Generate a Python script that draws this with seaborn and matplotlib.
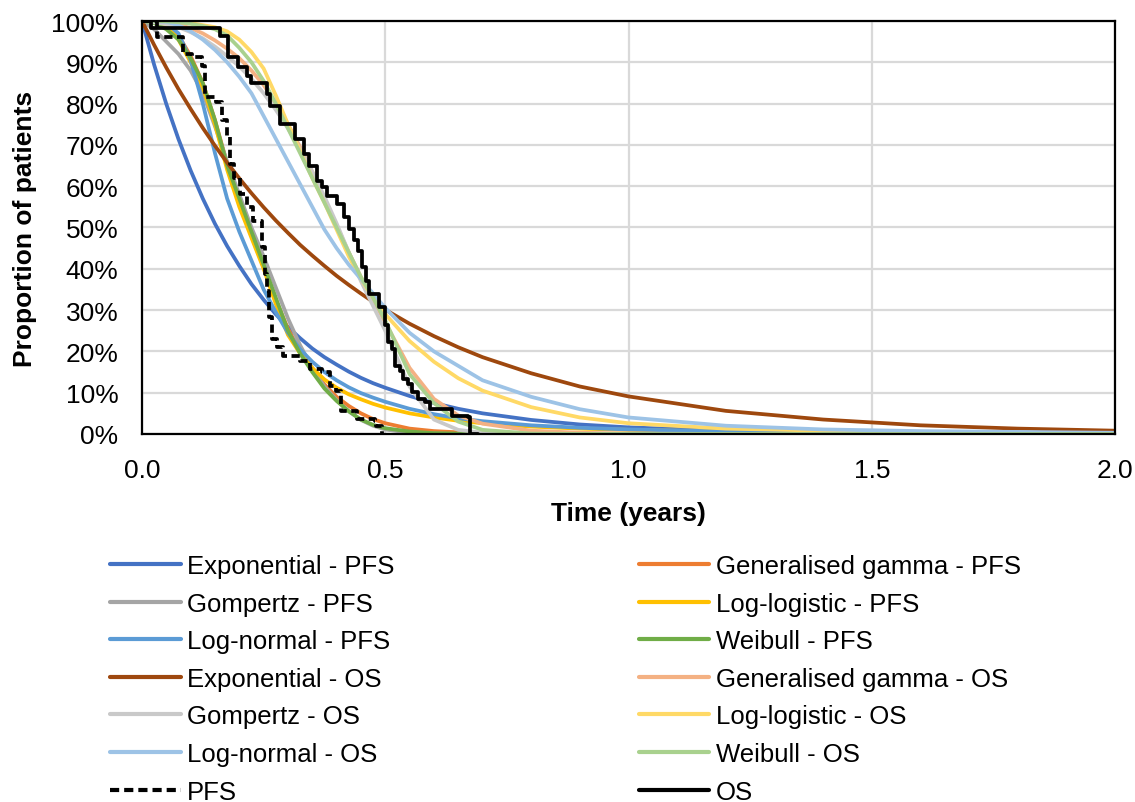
import pandas as pd
import seaborn as sns
import matplotlib.pyplot as plt
from matplotlib.lines import Line2D
from matplotlib.ticker import FuncFormatter

# time grid of the fitted curves (years)
t_grid = [0, 0.025, 0.05, 0.075, 0.1, 0.125, 0.15, 0.175, 0.2, 0.225, 0.25, 0.275,
          0.3, 0.325, 0.35, 0.375, 0.4, 0.425, 0.45, 0.475, 0.5, 0.55, 0.6, 0.65,
          0.7, 0.8, 0.9, 1.0, 1.2, 1.4, 1.6, 1.8, 2.0]

# fitted survival curves (% of patients)
exp_pfs = [100, 89.4, 79.9, 71.4, 63.8, 57.0, 50.9, 45.5, 40.7, 36.3, 32.5, 29.0,
           25.9, 23.2, 20.7, 18.6, 16.8, 15.1, 13.6, 12.3, 11.2, 9.2, 7.5, 6.1,
           5.0, 3.4, 2.3, 1.6, 0.8, 0.4, 0.2, 0.1, 0.05]
gg_pfs = [100, 99.8, 99, 96.5, 91.5, 85, 76, 65.5, 56, 48, 40.5, 32.5,
          25.5, 20, 15.5, 12, 9, 6.8, 5, 3.6, 2.6, 1.3, 0.7, 0.4,
          0.2, 0.1, 0, 0, 0, 0, 0, 0, 0]
gomp_pfs = [100, 98, 95, 92, 88, 82.5, 74.5, 66, 58, 50, 43, 35.5,
            28, 21.5, 16, 11.5, 8.2, 5.5, 3.4, 2.0, 1.1, 0.3, 0.1, 0,
            0, 0, 0, 0, 0, 0, 0, 0, 0]
ll_pfs = [100, 100, 99, 95.5, 90, 84, 75, 64, 55, 47.5, 40, 31.5,
          24, 19.5, 16, 13.2, 11.2, 9.6, 8.4, 7.3, 6.4, 5.0, 4.0, 3.2,
          2.6, 1.8, 1.3, 1.0, 0.6, 0.4, 0.3, 0.2, 0.2]
ln_pfs = [100, 100, 99.5, 97, 90.5, 80, 68, 57, 49, 42, 35, 29.5,
          24.5, 20.5, 17.5, 15, 13, 11.3, 9.9, 8.8, 7.8, 6.1, 4.8, 3.8,
          3.1, 2.1, 1.5, 1.1, 0.6, 0.3, 0.2, 0.1, 0.1]
wei_pfs = [100, 99.5, 98, 95.5, 91, 85, 76, 65, 57, 49, 41, 33,
           25, 19.5, 15, 11, 8, 5.5, 3.5, 2.2, 1.4, 0.6, 0.2, 0.1,
           0, 0, 0, 0, 0, 0, 0, 0, 0]
exp_os = [100, 94.2, 88.7, 83.5, 78.7, 74.1, 69.8, 65.7, 61.9, 58.3, 54.9, 51.7,
          48.7, 45.8, 43.2, 40.7, 38.3, 36.1, 34.0, 32.0, 30.1, 26.7, 23.7, 21.0,
          18.6, 14.7, 11.5, 9.1, 5.6, 3.5, 2.1, 1.3, 0.8]
gg_os = [100, 99.9, 99.6, 99.1, 98.3, 97.0, 95.3, 93.3, 91, 88, 84.5, 80,
         75, 69.5, 63.5, 57, 50.5, 44, 38, 32.5, 27, 16, 8.5, 4.5,
         2.5, 0.8, 0.3, 0.1, 0, 0, 0, 0, 0]
gomp_os = [100, 99.7, 99.2, 98.5, 97.3, 95.8, 93.8, 91.5, 89, 86, 82.5, 78.5,
           74, 69, 63.5, 57.5, 51, 44, 37, 31, 25, 11.5, 3.5, 1.0,
           0.3, 0, 0, 0, 0, 0, 0, 0, 0]
ll_os = [100, 100, 100, 99.8, 99.5, 99, 98.5, 97.5, 95.5, 92.5, 88.5, 82,
         75, 68.5, 62, 56, 49.5, 43, 37.5, 33, 29, 22.5, 17.5, 13.5,
         10.5, 6.5, 4.0, 2.6, 1.3, 0.8, 0.5, 0.3, 0.2]
ln_os = [100, 100, 99.8, 99, 97.5, 95.5, 93, 90, 86.5, 82.5, 77, 71.5,
         66, 60.5, 55, 49.5, 45, 41, 37.5, 34, 30.5, 24.5, 20, 16.5,
         13.0, 9.0, 6.0, 4.0, 2.0, 1.1, 0.7, 0.5, 0.3]
wei_os = [100, 100, 99.9, 99.7, 99.3, 98.8, 98, 96.5, 93.5, 90, 85.5, 80,
          74, 68, 62, 56, 50, 44, 38, 33, 27.5, 14.5, 7.5, 3,
          1.0, 0.1, 0, 0, 0, 0, 0, 0, 0]

# Kaplan-Meier steps
km_pfs_t = [0, 0.030, 0.085, 0.102, 0.123, 0.129, 0.153, 0.165, 0.174, 0.181,
            0.190, 0.201, 0.215, 0.229, 0.246, 0.253, 0.257, 0.262, 0.267, 0.277,
            0.290, 0.325, 0.345, 0.369, 0.386, 0.398, 0.410, 0.441, 0.479, 0.482, 0.493]
km_pfs_s = [100, 96.2, 92.0, 91.2, 89.2, 81.5, 80.3, 76, 71.8, 65.4,
            62, 58.1, 55, 51.6, 45.2, 38.7, 34.7, 28.3, 23.0, 21.0,
            19.0, 17.7, 15.7, 14.9, 11.7, 10.5, 5.6, 3.6, 3.2, 2.0, 0]
km_os_t = [0, 0.018, 0.160, 0.177, 0.198, 0.215, 0.225, 0.257, 0.264, 0.284,
           0.315, 0.332, 0.343, 0.360, 0.370, 0.380, 0.401, 0.415, 0.425, 0.435,
           0.445, 0.452, 0.460, 0.466, 0.487, 0.500, 0.506, 0.513, 0.520, 0.530,
           0.537, 0.547, 0.554, 0.568, 0.582, 0.592, 0.637, 0.671, 0.674, 0.691]
km_os_s = [100, 98.3, 96.4, 91.2, 88.8, 86.8, 85.0, 82.3, 79.3, 75.1,
           71.4, 67.8, 65.0, 61.3, 59.7, 57.7, 55.7, 52.5, 49.6, 47,
           44.4, 40.4, 37, 33.9, 30.7, 26.4, 22.2, 20.6, 16.5, 15.3,
           13.3, 12.1, 10.1, 8.5, 7.7, 6.1, 4.4, 4.0, 0.0, 0.0]

fit_names = ['Exponential - PFS', 'Generalised gamma - PFS', 'Gompertz - PFS',
             'Log-logistic - PFS', 'Log-normal - PFS', 'Weibull - PFS',
             'Exponential - OS', 'Generalised gamma - OS', 'Gompertz - OS',
             'Log-logistic - OS', 'Log-normal - OS', 'Weibull - OS']
fit_values = [exp_pfs, gg_pfs, gomp_pfs, ll_pfs, ln_pfs, wei_pfs,
              exp_os, gg_os, gomp_os, ll_os, ln_os, wei_os]
fit_colors = ['#4472C4', '#ED7D31', '#A5A5A5', '#FFC000', '#5B9BD5', '#70AD47',
              '#9E480E', '#F4B183', '#C9C9C9', '#FFD966', '#9DC3E6', '#A9D18E']

rows = []
for name, vals in zip(fit_names, fit_values):
    for t, s in zip(t_grid, vals):
        rows.append({'time': t, 'survival': s, 'model': name})
df = pd.DataFrame(rows)

sns.set_theme(style='white')
plt.rcParams['font.family'] = ['Liberation Sans', 'DejaVu Sans']
plt.rcParams['text.color'] = 'black'
plt.rcParams['axes.labelcolor'] = 'black'

fig = plt.figure(figsize=(11.35, 8.03), dpi=100)
ax = fig.add_axes([0.1251, 0.4583, 0.8573, 0.5143])

lw = 2.7
sns.lineplot(data=df, x='time', y='survival', hue='model', hue_order=fit_names,
             palette=dict(zip(fit_names, fit_colors)), linewidth=lw,
             estimator=None, sort=False, legend=False, ax=ax)
sns.lineplot(x=km_pfs_t, y=km_pfs_s, drawstyle='steps-post', color='black',
             linestyle=(0, (2.2, 1.2)), linewidth=lw, estimator=None, sort=False, ax=ax)
sns.lineplot(x=km_os_t, y=km_os_s, drawstyle='steps-post', color='black',
             linewidth=lw, estimator=None, sort=False, ax=ax)

ax.set_xlim(0, 2.0)
ax.set_ylim(0, 100)
ax.set_xticks([0, 0.5, 1.0, 1.5, 2.0])
ax.set_yticks(range(0, 101, 10))
ax.xaxis.set_major_formatter(FuncFormatter(lambda v, p: f'{v:.1f}'))
ax.yaxis.set_major_formatter(FuncFormatter(lambda v, p: f'{v:.0f}%'))
ax.tick_params(axis='both', length=0, labelsize=19, pad=17, colors='black')
ax.grid(True, color='#D9D9D9', linewidth=1.6)
ax.set_axisbelow(True)
for sp in ax.spines.values():
    sp.set_color('black')
    sp.set_linewidth(1.6)

ax.set_xlabel('Time (years)', fontsize=19, fontweight='bold', labelpad=14)
ax.set_ylabel('Proportion of patients', fontsize=19, fontweight='bold', labelpad=10)

# legend: row-major order as in the original, two columns
entries = [(n, c, '-') for n, c in zip(fit_names, fit_colors)]
entries += [('PFS', 'black', (0, (2.2, 1.2))), ('OS', 'black', '-')]
ordered = entries[0::2] + entries[1::2]
handles = [Line2D([0], [0], color=c, linestyle=ls, linewidth=3.0) for n, c, ls in ordered]
labels = [n for n, c, ls in ordered]
fig.legend(handles, labels, ncol=2, frameon=False, fontsize=18.5,
           loc='upper left', bbox_to_anchor=(110 / 1135, 1 - 555 / 803),
           handlelength=2.75, handletextpad=0.25, columnspacing=9.5,
           labelspacing=0.53, borderpad=0, borderaxespad=0)

fig.savefig('out.png', dpi=100)
